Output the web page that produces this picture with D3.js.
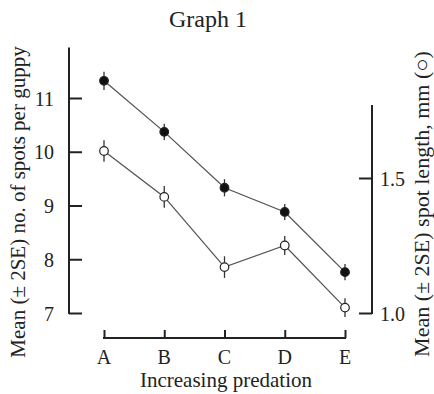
<!DOCTYPE html>
<html>
<head>
<meta charset="utf-8">
<script src="https://cdn.jsdelivr.net/npm/d3@7"></script>
<style>
  body { margin: 0; background: #fff; }
  text { font-family: "Liberation Serif", "Times New Roman", serif; fill: #222; }
</style>
</head>
<body>
<div id="chart"></div>
<script>
// predation sites
const sites = ["A", "B", "C", "D", "E"];
// mean number of spots (filled dots, left axis) and 2SE
const spotCount = [11.32, 10.37, 9.33, 8.88, 7.76];
const spotCountErr = [0.17, 0.15, 0.16, 0.15, 0.15];
// mean spot length, mm (open dots, right axis) and 2SE
const spotLength = [1.60, 1.43, 1.17, 1.25, 1.02];
const spotLengthErr = [0.04, 0.04, 0.04, 0.035, 0.035];
// tick labels
const leftTicks = [7, 8, 9, 10, 11];
const rightTicks = [1.0, 1.5];

const width = 434, height = 394;

const svg = d3.select("#chart").append("svg")
    .attr("width", width)
    .attr("height", height);

// scales
const x = d3.scalePoint().domain(sites).range([104, 345]);
const yLeft = d3.scaleLinear().domain([7, 11]).range([313, 98]);
const yRight = d3.scaleLinear().domain([1.0, 1.5]).range([313, 178]);

// title
svg.append("text")
    .attr("x", 208)
    .attr("y", 27)
    .attr("text-anchor", "middle")
    .style("font-size", "24px")
    .text("Graph 1");

// left axis: spine from 7 up past 11
svg.append("line")
    .attr("x1", 69).attr("x2", 69)
    .attr("y1", yLeft(7) + 1).attr("y2", yLeft(11.94))
    .attr("stroke", "#222").attr("stroke-width", 2);

const yLeftAxis = d3.axisRight(yLeft)
    .tickValues(leftTicks)
    .tickSize(13)
    .tickFormat(d3.format("d"));
const gl = svg.append("g")
    .attr("transform", "translate(69,0)")
    .call(yLeftAxis);
gl.select(".domain").remove();
gl.selectAll(".tick line").attr("stroke", "#222").attr("stroke-width", 2);
gl.selectAll(".tick text")
    .attr("x", -15)
    .attr("dy", "0.35em")
    .attr("text-anchor", "end")
    .style("font-size", "20px")
    .style("font-family", "Liberation Serif");

// right axis
svg.append("line")
    .attr("x1", 372).attr("x2", 372)
    .attr("y1", yRight(1.0) + 1).attr("y2", yRight(1.77))
    .attr("stroke", "#222").attr("stroke-width", 2);

const yRightAxis = d3.axisLeft(yRight)
    .tickValues(rightTicks)
    .tickSize(13)
    .tickFormat(d3.format(".1f"));
const gr = svg.append("g")
    .attr("transform", "translate(372,0)")
    .call(yRightAxis);
gr.select(".domain").remove();
gr.selectAll(".tick line").attr("stroke", "#222").attr("stroke-width", 2);
gr.selectAll(".tick text")
    .attr("x", 8)
    .attr("dy", "0.35em")
    .attr("text-anchor", "start")
    .style("font-size", "20px")
    .style("font-family", "Liberation Serif");

// x axis
const xAxis = d3.axisTop(x).tickSize(8).tickFormat("");
const gx = svg.append("g")
    .attr("transform", "translate(0,338)")
    .call(xAxis);
gx.select(".domain").remove();
gx.append("line")
    .attr("x1", x("A") - 1).attr("x2", x("E") + 1)
    .attr("stroke", "#222").attr("stroke-width", 2);
gx.selectAll(".tick line").attr("stroke", "#222").attr("stroke-width", 2);

svg.append("g").selectAll("text")
    .data(sites)
    .join("text")
    .attr("x", d => x(d))
    .attr("y", 364)
    .attr("text-anchor", "middle")
    .style("font-size", "20px")
    .text(d => d);

// axis labels
svg.append("text")
    .attr("x", 226)
    .attr("y", 387)
    .attr("text-anchor", "middle")
    .style("font-size", "21px")
    .text("Increasing predation");

svg.append("text")
    .attr("transform", "translate(25,202) rotate(-90)")
    .attr("text-anchor", "middle")
    .style("font-size", "21px")
    .text("Mean (\u00B1 2SE) no. of spots per guppy");

svg.append("text")
    .attr("transform", "translate(429,204) rotate(-90)")
    .attr("text-anchor", "middle")
    .style("font-size", "22px")
    .text("Mean (\u00B1 2SE) spot length, mm (\u25CB)");

// series
function drawSeries(values, errs, yScale, filled) {
    const pts = sites.map((s, i) => ({ s, v: values[i], e: errs[i] }));
    const g = svg.append("g");

    g.append("path")
        .datum(pts)
        .attr("fill", "none")
        .attr("stroke", "#555")
        .attr("stroke-width", 1.3)
        .attr("d", d3.line().x(d => x(d.s)).y(d => yScale(d.v)));

    g.selectAll(".err")
        .data(pts)
        .join("line")
        .attr("class", "err")
        .attr("x1", d => x(d.s)).attr("x2", d => x(d.s))
        .attr("y1", d => yScale(d.v - d.e))
        .attr("y2", d => yScale(d.v + d.e))
        .attr("stroke", "#333")
        .attr("stroke-width", 1.3);

    g.selectAll(".dot")
        .data(pts)
        .join("circle")
        .attr("class", "dot")
        .attr("cx", d => x(d.s))
        .attr("cy", d => yScale(d.v))
        .attr("r", 4.3)
        .attr("fill", filled ? "#111" : "#fff")
        .attr("stroke", "#222")
        .attr("stroke-width", 1.2);
}

drawSeries(spotLength, spotLengthErr, yRight, false);
drawSeries(spotCount, spotCountErr, yLeft, true);
</script>
</body>
</html>
